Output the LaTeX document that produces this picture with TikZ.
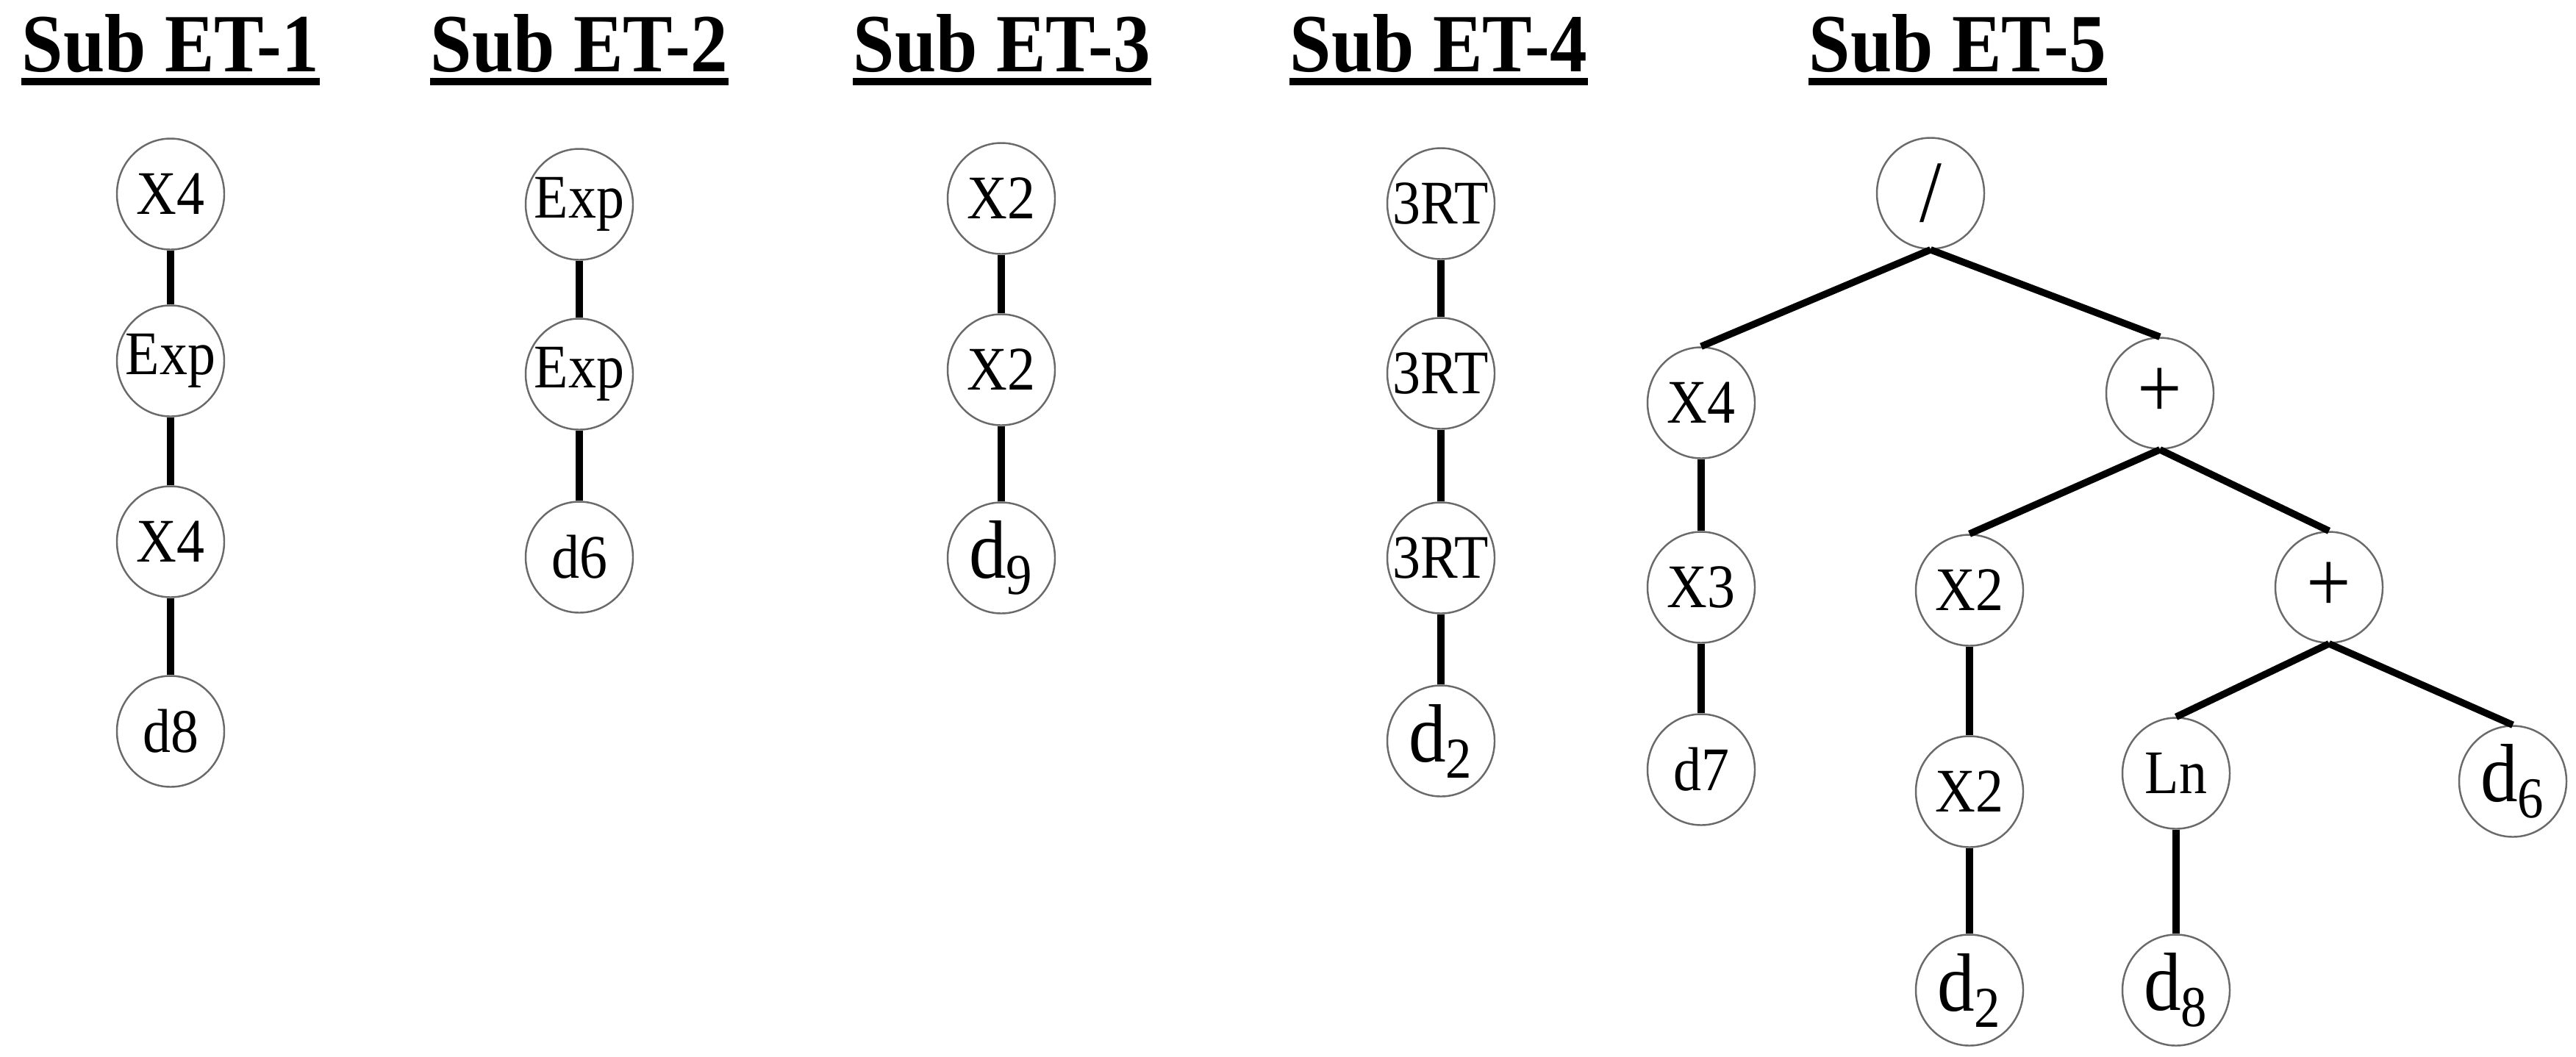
\documentclass[tikz,border=0pt]{standalone}
\usepackage{fontspec}
\setmainfont[FakeStretch=0.9]{Liberation Serif}
\usepackage{tikz}
\usetikzlibrary{positioning, shapes.geometric}
\definecolor{ringgray}{HTML}{6A6A6A}
\newcommand{\dsub}[1]{{\fontsize{32}{37}\selectfont d\textsubscript{#1}}}
\tikzset{
	vertex/.style={
		draw=ringgray,
		ellipse,
		line width=.7pt,
		minimum width=1.46cm,
		minimum height=1.51cm,
		inner xsep=-0.2cm,
		inner ysep=0pt,
		font=\fontsize{24}{28}\selectfont
	},
	op vertex/.style={
		vertex,
		font=\fontsize{34}{40}\selectfont
	},
	edge/.style={
		line width=2.7pt
	},
	heading/.style={
		font=\bfseries\fontsize{32}{37}\selectfont,
		inner sep=0pt,
		anchor=base
	},
	uline/.style={
		line width=2.85pt
	}
}

\begin{document}
\begin{tikzpicture}
\useasboundingbox (0,0) rectangle (35.04,-14.37);

% ---
% Headings
% ---
\foreach \i/\x in {1/2.32, 2/7.88, 3/13.63, 4/19.57, 5/26.63} {
	\node[heading] (title\i) at (\x,-0.97) {Sub ET-\i};
	\draw[uline] ([yshift=-0.14cm]title\i.base west) -- ([yshift=-0.14cm]title\i.base east);
}

% ---
% Sub ET-1 to Sub ET-4
% ---
\foreach \i/\lbl/\y in {0/X4/2.64, 1/Exp/4.91, 2/X4/7.37, 3/d8/9.95}
	\node[vertex] (a\i) at (2.32,-\y) {\lbl};
\foreach \i/\lbl/\y in {0/Exp/2.78, 1/Exp/5.09, 2/d6/7.58}
	\node[vertex] (b\i) at (7.88,-\y) {\lbl};
\foreach \i/\lbl/\y in {0/X2/2.70, 1/X2/5.03, 2/\dsub{9}/7.59}
	\node[vertex] (c\i) at (13.62,-\y) {\lbl};
\foreach \i/\lbl/\y in {0/3RT/2.77, 1/3RT/5.08, 2/3RT/7.59, 3/\dsub{2}/10.08}
	\node[vertex] (f\i) at (19.60,-\y) {\lbl};

\foreach \i in {0,1,2} {
	\pgfmathtruncatemacro{\next}{\i + 1}
	\draw[edge] (a\i.south) to (a\next.north);
	\draw[edge] (f\i.south) to (f\next.north);
}
\foreach \i in {0,1} {
	\pgfmathtruncatemacro{\next}{\i + 1}
	\draw[edge] (b\i.south) to (b\next.north);
	\draw[edge] (c\i.south) to (c\next.north);
}

% ---
% Sub ET-5
% ---
\node[op vertex] (e0) at (26.26,-2.63) {/};
\node[vertex] (e1) at (23.14,-5.48) {X4};
\node[op vertex] (e2) at (29.38,-5.35) {+};
\node[vertex] (e3) at (23.14,-7.99) {X3};
\node[vertex] (e4) at (26.79,-8.03) {X2};
\node[op vertex] (e5) at (31.68,-7.99) {+};
\node[vertex] (e6) at (23.14,-10.47) {d7};
\node[vertex] (e7) at (26.79,-10.77) {X2};
\node[vertex] (e8) at (29.60,-10.52) {Ln};
\node[vertex] (e9) at (34.18,-10.63) {\dsub{6}};
\node[vertex] (e10) at (26.79,-13.47) {\dsub{2}};
\node[vertex] (e11) at (29.60,-13.47) {\dsub{8}};

\foreach \p/\c in {0/1, 0/2, 1/3, 2/4, 2/5, 3/6, 4/7, 5/8, 5/9, 7/10, 8/11}
	\draw[edge] (e\p.south) to (e\c.north);
\end{tikzpicture}
\end{document}
